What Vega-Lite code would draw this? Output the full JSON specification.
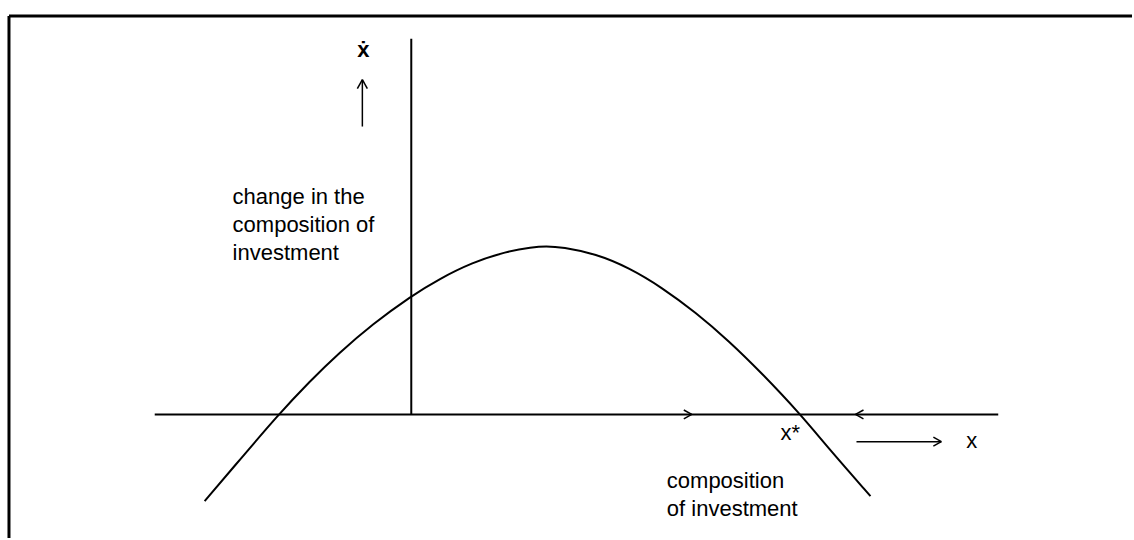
{
  "$schema": "https://vega.github.io/schema/vega-lite/v6.json",
  "width": 1134,
  "height": 540,
  "padding": 0,
  "autosize": {"type": "fit", "contains": "padding"},
  "background": "white",
  "config": {"view": {"stroke": null}},
  "datasets": {
    "curve": [
      {"x": -2.07, "y": -0.87},
      {"x": -1.79, "y": -0.54},
      {"x": -1.33, "y": 0.0},
      {"x": -1.02, "y": 0.33},
      {"x": -0.72, "y": 0.62},
      {"x": -0.39, "y": 0.905},
      {"x": 0.0, "y": 1.19},
      {"x": 0.28, "y": 1.36},
      {"x": 0.61, "y": 1.525},
      {"x": 0.95, "y": 1.635},
      {"x": 1.21, "y": 1.68},
      {"x": 1.35, "y": 1.69},
      {"x": 1.51, "y": 1.68},
      {"x": 1.85, "y": 1.612},
      {"x": 2.18, "y": 1.473},
      {"x": 2.51, "y": 1.275},
      {"x": 2.85, "y": 1.023},
      {"x": 3.18, "y": 0.739},
      {"x": 3.51, "y": 0.416},
      {"x": 3.9, "y": 0.0},
      {"x": 4.18, "y": -0.34},
      {"x": 4.6, "y": -0.82}
    ],
    "frame": [
      {"x": -4.03, "y": 4.0, "x2": 7.22, "y2": 4.0},
      {"x": -4.03, "y": 4.0, "x2": -4.03, "y2": -1.24}
    ],
    "axes": [
      {"x": -2.57, "y": 0.0, "x2": 5.88, "y2": 0.0},
      {"x": 0.0, "y": 0.0, "x2": 0.0, "y2": 3.77}
    ],
    "arrows": [
      {"x": 2.81, "y": 0.0, "x2": 2.73, "y2": 0.045},
      {"x": 2.81, "y": 0.0, "x2": 2.73, "y2": -0.045},
      {"x": 4.45, "y": 0.0, "x2": 4.53, "y2": 0.045},
      {"x": 4.45, "y": 0.0, "x2": 4.53, "y2": -0.045},
      {"x": -0.49, "y": 2.89, "x2": -0.49, "y2": 3.36},
      {"x": -0.49, "y": 3.36, "x2": -0.54, "y2": 3.27},
      {"x": -0.49, "y": 3.36, "x2": -0.44, "y2": 3.27},
      {"x": 4.46, "y": -0.273, "x2": 5.31, "y2": -0.273},
      {"x": 5.31, "y": -0.273, "x2": 5.23, "y2": -0.228},
      {"x": 5.31, "y": -0.273, "x2": 5.23, "y2": -0.318}
    ],
    "labels": [
      {"x": -1.79, "y": 2.11, "label": "change in the"},
      {"x": -1.79, "y": 1.83, "label": "composition of"},
      {"x": -1.79, "y": 1.55, "label": "investment"},
      {"x": 3.7, "y": -0.26, "label": "x*"},
      {"x": 5.56, "y": -0.34, "label": "x"},
      {"x": 2.56, "y": -0.74, "label": "composition"},
      {"x": 2.56, "y": -1.02, "label": "of investment"}
    ],
    "symbol": [
      {"x": -0.48, "y": 3.59, "label": "ẋ"}
    ]
  },
  "layer": [
    {
      "data": {"name": "frame"},
      "mark": {"type": "rule", "color": "black", "strokeWidth": 3},
      "encoding": {
        "x": {"field": "x", "type": "quantitative", "scale": {"domain": [-4.12, 7.22], "nice": false, "zero": false}, "axis": null},
        "y": {"field": "y", "type": "quantitative", "scale": {"domain": [-1.24, 4.16], "nice": false, "zero": false}, "axis": null},
        "x2": {"field": "x2"},
        "y2": {"field": "y2"}
      }
    },
    {
      "data": {"name": "axes"},
      "mark": {"type": "rule", "color": "black", "strokeWidth": 2},
      "encoding": {
        "x": {"field": "x", "type": "quantitative", "axis": null},
        "y": {"field": "y", "type": "quantitative", "axis": null},
        "x2": {"field": "x2"},
        "y2": {"field": "y2"}
      }
    },
    {
      "data": {"name": "arrows"},
      "mark": {"type": "rule", "color": "black", "strokeWidth": 1.5},
      "encoding": {
        "x": {"field": "x", "type": "quantitative", "axis": null},
        "y": {"field": "y", "type": "quantitative", "axis": null},
        "x2": {"field": "x2"},
        "y2": {"field": "y2"}
      }
    },
    {
      "data": {"name": "curve"},
      "mark": {"type": "line", "color": "black", "strokeWidth": 2, "interpolate": "basis"},
      "encoding": {
        "x": {"field": "x", "type": "quantitative", "axis": null},
        "y": {"field": "y", "type": "quantitative", "axis": null}
      }
    },
    {
      "data": {"name": "labels"},
      "mark": {"type": "text", "align": "left", "baseline": "alphabetic", "font": "Liberation Sans", "fontSize": 22, "color": "black"},
      "encoding": {
        "x": {"field": "x", "type": "quantitative", "axis": null},
        "y": {"field": "y", "type": "quantitative", "axis": null},
        "text": {"field": "label"}
      }
    },
    {
      "data": {"name": "symbol"},
      "mark": {"type": "text", "align": "center", "baseline": "alphabetic", "font": "Liberation Sans", "fontSize": 22, "fontWeight": "bold", "color": "black"},
      "encoding": {
        "x": {"field": "x", "type": "quantitative", "axis": null},
        "y": {"field": "y", "type": "quantitative", "axis": null},
        "text": {"field": "label"}
      }
    }
  ]
}
